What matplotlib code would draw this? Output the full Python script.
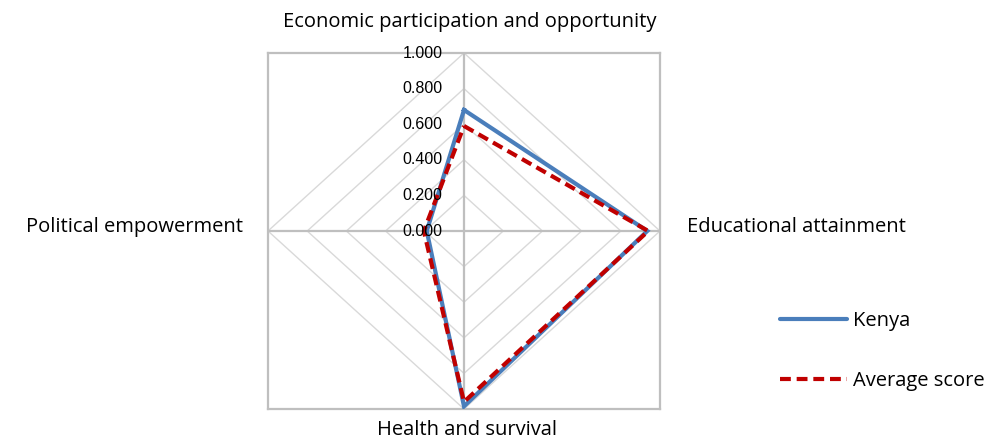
import matplotlib
matplotlib.use("Agg")
import matplotlib.pyplot as plt
from matplotlib.lines import Line2D
import numpy as np

categories = ["Economic participation and opportunity", "Educational attainment",
              "Health and survival", "Political empowerment"]
kenya = [0.68, 0.935, 0.985, 0.19]
average = [0.59, 0.94, 0.96, 0.205]
levels = [0.2, 0.4, 0.6, 0.8, 1.0]
level_labels = ["0.000", "0.200", "0.400", "0.600", "0.800", "1.000"]

# directions of the four spokes: top, right, bottom, left
dirs = np.array([[0, 1], [1, 0], [0, -1], [-1, 0]])


def to_xy(vals):
    pts = dirs * np.asarray(vals)[:, None]
    pts = np.vstack([pts, pts[:1]])
    return pts[:, 0], pts[:, 1]


fig = plt.figure(figsize=(10.01, 4.40), dpi=100)
W, H = 1001, 440
ax = fig.add_axes([268 / W, (H - 409) / H, 392 / W, 356 / H])
ax.set_xlim(-1, 1)
ax.set_ylim(-1, 1)
ax.set_xticks([])
ax.set_yticks([])
for s in ax.spines.values():
    s.set_color("#bfbfbf")
    s.set_linewidth(1.6)

# grid diamonds
for lv in levels:
    gx, gy = to_xy([lv] * 4)
    ax.plot(gx, gy, color="#d9d9d9", lw=1.0, zorder=1)
# spokes
ax.plot([-1, 1], [0, 0], color="#bfbfbf", lw=1.6, zorder=2)
ax.plot([0, 0], [-1, 1], color="#bfbfbf", lw=1.6, zorder=2)

dash = (0, (2.6, 1.4))
kx, ky = to_xy(kenya)
ax.plot(kx, ky, color="#4A7EBB", lw=3.0, solid_joinstyle="miter", zorder=3, label="Kenya")
axx, ayy = to_xy(average)
ax.plot(axx, ayy, color="#C00000", lw=3.0, ls=dash, zorder=4, label="Average score")

# value labels along the top spoke
for i, lab in enumerate(level_labels):
    ax.annotate(lab, xy=(0, i * 0.2), xytext=(-15.5, 0), textcoords="offset points",
                ha="right", va="center", fontsize=11.5, family="Liberation Sans",
                color="#000000", zorder=5)

lab_font = dict(family="Open Sans", fontsize=14.5, color="#000000")
ax.annotate(categories[0], xy=(0, 1), xytext=(4, 22), textcoords="offset points",
            ha="center", va="center", **lab_font)
ax.annotate(categories[1], xy=(1, 0), xytext=(19.5, 3), textcoords="offset points",
            ha="left", va="center", **lab_font)
ax.annotate(categories[2], xy=(0, -1), xytext=(2, -15), textcoords="offset points",
            ha="center", va="center", **lab_font)
ax.annotate(categories[3], xy=(-1, 0), xytext=(-18, 3), textcoords="offset points",
            ha="right", va="center", **lab_font)

handles = [Line2D([], [], color="#4A7EBB", lw=3.0, solid_capstyle="round"),
           Line2D([], [], color="#C00000", lw=3.0, ls=dash)]
fig.legend(handles, ["Kenya", "Average score"], loc="upper left",
           bbox_to_anchor=(762 / W, 1 - 293 / H), frameon=False,
           handlelength=3.3, handletextpad=0.3, labelspacing=2.0,
           prop=dict(family="Open Sans", size=14.5))

fig.savefig("out.png", dpi=100)
